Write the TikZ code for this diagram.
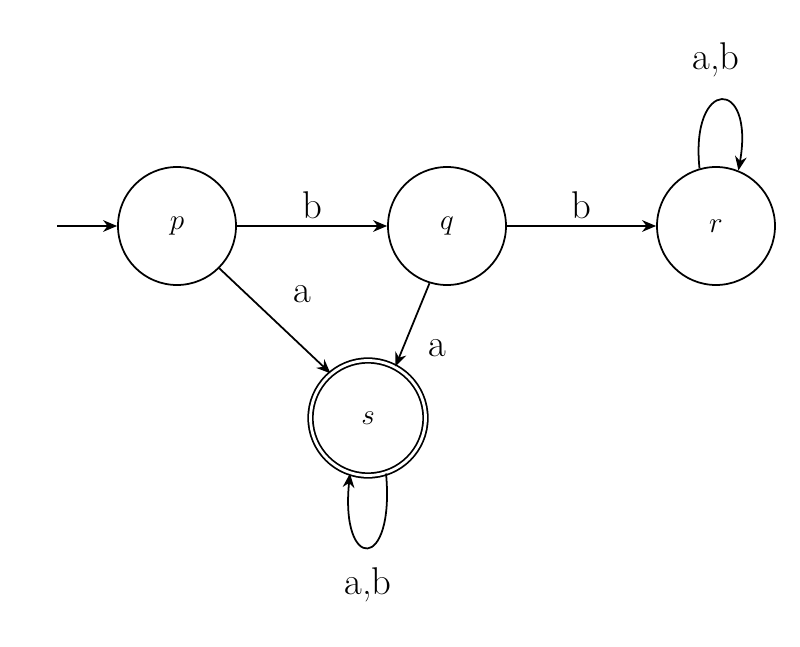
\documentclass[tikz,border=0pt]{standalone}
\usetikzlibrary{arrows.meta}
\begin{document}
\begin{tikzpicture}[x=0.03cm,y=-0.03cm,
  st/.style={circle,draw,line width=1.5pt,minimum size=3.54cm,inner sep=0pt,font=\fontsize{34}{40}\selectfont},
  acc/.style={st,double,double distance=2.4pt,minimum size=3.45cm},
  ed/.style={-{Stealth[length=12pt,width=10pt]},line width=1.5pt},
  lb/.style={font=\fontsize{33}{38}\selectfont}]
\useasboundingbox (0,0) rectangle (800,647);
\node[st] (p) at (177,226) {$p$};
\node[st] (q) at (447,226) {$q$};
\node[st] (r) at (716,226) {$r$};
\node[acc] (s) at (368,418) {$s$};
\coordinate (i) at (57,226);
\draw[ed] (i) -- (p);
\draw[ed] (p) -- node[lb,above=2pt]{b} (q);
\draw[ed] (q) -- node[lb,above=2pt]{b} (r);
\draw[ed] (p.-45) -- (s.130);
\draw[ed] (q.-107) -- (s.62);
\node[lb] (la1) at (302,294) {a};
\node[lb] (la2) at (437,348) {a};
\draw[ed] (r.106) .. controls (690,77) and (755,77) .. (r.68);
\node[lb] (lr) at (716,60) {a,b};
\draw[ed] (s.-72) .. controls (395,572) and (340,572) .. (s.-108);
\node[lb] (ls) at (368,585) {a,b};
\end{tikzpicture}
\end{document}
